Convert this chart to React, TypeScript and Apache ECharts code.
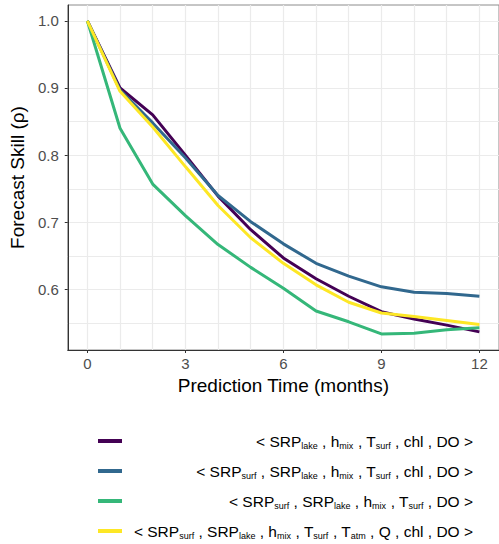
import React, { useEffect, useRef } from 'react';
import * as echarts from 'echarts';

const months = [0, 1, 2, 3, 4, 5, 6, 7, 8, 9, 10, 11, 12];
const seriesNames = [
  '< SRP_lake , h_mix , T_surf , chl , DO >',
  '< SRP_surf , SRP_lake , h_mix , T_surf , chl , DO >',
  '< SRP_surf , SRP_lake , h_mix , T_surf , DO >',
  '< SRP_surf , SRP_lake , h_mix , T_surf , T_atm , Q , chl , DO >',
];
const purpleVals = [1.0, 0.9, 0.86, 0.8, 0.739, 0.689, 0.647, 0.616, 0.59, 0.567, 0.556, 0.547, 0.537];
const blueVals = [1.0, 0.897, 0.848, 0.796, 0.74, 0.701, 0.668, 0.639, 0.62, 0.604, 0.596, 0.594, 0.59];
const greenVals = [1.0, 0.84, 0.757, 0.71, 0.667, 0.633, 0.602, 0.568, 0.552, 0.534, 0.535, 0.54, 0.543];
const yellowVals = [1.0, 0.895, 0.842, 0.783, 0.725, 0.677, 0.639, 0.607, 0.581, 0.565, 0.56, 0.554, 0.548];
const allVals = [purpleVals, blueVals, greenVals, yellowVals];
const colors = ['#440154', '#31688E', '#35B779', '#FDE725'];
const xTickLabels = [0, 3, 6, 9, 12];
const xGridValues = months;
const yTickLabels = [0.6, 0.7, 0.8, 0.9, 1.0];
const yGridValues = [0.55, 0.6, 0.65, 0.7, 0.75, 0.8, 0.85, 0.9, 0.95, 1.0];

const FONT = '"Liberation Sans", Arial, Helvetica, sans-serif';

function toRich(name: string): string {
  return name
    .split(/(_[A-Za-z]+)/)
    .filter((s) => s.length > 0)
    .map((s) => (s.startsWith('_') ? `{sub|${s.slice(1)}}` : `{n|${s}}`))
    .join('');
}

export default function App() {
  const ref = useRef<HTMLDivElement>(null);
  useEffect(() => {
    if (!ref.current) return;
    const chart = echarts.init(ref.current, undefined, { renderer: 'svg' });
    const xMin = -0.6, xMax = 12.6, yMin = 0.51, yMax = 1.0235;
    const option: any = {
      animation: false,
      backgroundColor: '#ffffff',
      textStyle: { fontFamily: FONT },
      grid: {
        left: 67, top: 5, width: 435, height: 345,
        show: true, borderColor: '#8c8c8c', borderWidth: 1, backgroundColor: 'transparent',
      },
      xAxis: [
        {
          type: 'value', min: xMin, max: xMax, position: 'bottom',
          name: 'Prediction Time (months)', nameLocation: 'middle', nameGap: 24,
          nameTextStyle: { fontSize: 19, color: '#000', fontFamily: FONT },
          axisLine: { show: true, onZero: false, lineStyle: { color: '#333333', width: 1 } },
          axisTick: { show: true, length: 3, customValues: xTickLabels, lineStyle: { color: '#333333' } },
          axisLabel: { show: true, customValues: xTickLabels, margin: 6, fontSize: 15, color: '#4d4d4d', fontFamily: FONT },
          splitLine: { show: false },
        },
        {
          type: 'value', min: xMin, max: xMax, position: 'bottom',
          axisLine: { show: false, onZero: false },
          axisTick: { show: false, customValues: xGridValues },
          axisLabel: { show: false, customValues: xGridValues },
          splitLine: { show: true, lineStyle: { color: '#ebebeb', width: 1.2 } },
        },
      ],
      yAxis: [
        {
          type: 'value', min: yMin, max: yMax, position: 'left',
          name: 'Forecast Skill (ρ)', nameLocation: 'middle', nameGap: 34,
          nameTextStyle: { fontSize: 19, color: '#000', fontFamily: FONT },
          axisLine: { show: true, onZero: false, lineStyle: { color: '#333333', width: 1 } },
          axisTick: { show: true, length: 3, customValues: yTickLabels, lineStyle: { color: '#333333' } },
          axisLabel: {
            show: true, customValues: yTickLabels, margin: 9, fontSize: 15, color: '#4d4d4d', fontFamily: FONT,
            formatter: (v: number) => v.toFixed(1),
          },
          splitLine: { show: false },
        },
        {
          type: 'value', min: yMin, max: yMax, position: 'left',
          axisLine: { show: false, onZero: false },
          axisTick: { show: false, customValues: yGridValues },
          axisLabel: { show: false, customValues: yGridValues },
          splitLine: { show: true, lineStyle: { color: '#ebebeb', width: 1.2 } },
        },
      ],
      legend: {
        orient: 'vertical', left: 98, top: 433, padding: 0,
        itemWidth: 24, itemHeight: 4, itemGap: 13, icon: 'rect',
        selectedMode: false,
        data: seriesNames,
        formatter: (name: string) => toRich(name),
        textStyle: {
          width: 346, fontFamily: FONT, color: '#000',
          rich: {
            n: { fontSize: 15.5, lineHeight: 18, align: 'right', fontFamily: FONT, color: '#000' },
            sub: { fontSize: 9, lineHeight: 10, align: 'right', verticalAlign: 'bottom', fontFamily: FONT, color: '#000' },
          },
        },
      },
      series: allVals.map((vals, i) => ({
        name: seriesNames[i],
        type: 'line',
        xAxisIndex: 0, yAxisIndex: 0,
        data: months.map((m, j) => [m, vals[j]]),
        showSymbol: false, symbol: 'none',
        color: colors[i],
        lineStyle: { color: colors[i], width: 3 },
        itemStyle: { color: colors[i] },
      })),
    };
    chart.setOption(option);
    return () => chart.dispose();
  }, []);
  return <div ref={ref} style={{ position: 'fixed', left: 0, top: 0, width: 499, height: 544 }} />;
}
